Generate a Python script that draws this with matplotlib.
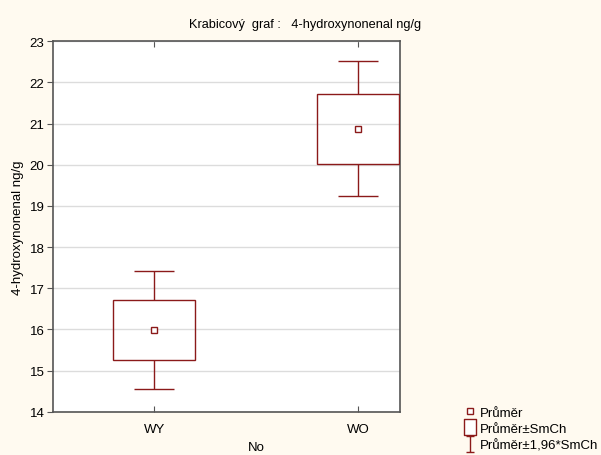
import numpy as np
import matplotlib
matplotlib.use("Agg")
import matplotlib.pyplot as plt
from matplotlib.lines import Line2D
from matplotlib.path import Path

# values
groups = ["WY", "WO"]
means = [15.99, 20.88]
box_low = [15.26, 20.03]      # mean - SE
box_high = [16.72, 21.73]     # mean + SE
whisk_low = [14.55, 19.23]    # mean - 1.96*SE
whisk_high = [17.43, 22.53]   # mean + 1.96*SE

title = "Krabicový  graf :   4-hydroxynonenal ng/g"
ylabel = "4-hydroxynonenal ng/g"
xlabel = "No"
legend_labels = ["Průměr", "Průměr±SmCh", "Průměr±1,96*SmCh"]

red = "#8b1a1a"
bg = "#fffaf0"

plt.rcParams["font.family"] = ["Liberation Sans", "DejaVu Sans"]
plt.rcParams["font.size"] = 9.5

fig = plt.figure(figsize=(6.01, 4.56), dpi=100, facecolor=bg)
ax = fig.add_axes([0.0877, 0.095, 0.5779, 0.8122])
ax.set_facecolor("white")

x = np.arange(len(groups))
ax.vlines(x, whisk_low, box_low, color=red, lw=1, zorder=2)
ax.vlines(x, box_high, whisk_high, color=red, lw=1, zorder=2)
ax.hlines(whisk_low, x - 0.1, x + 0.1, color=red, lw=1, zorder=2)
ax.hlines(whisk_high, x - 0.1, x + 0.1, color=red, lw=1, zorder=2)
ax.bar(x, np.array(box_high) - np.array(box_low), bottom=box_low, width=0.4,
       fill=False, edgecolor=red, lw=1, zorder=3)
ax.plot(x, means, ls="none", marker="s", ms=4, mfc="white", mec=red, mew=1, zorder=4)

ax.set_xlim(-0.497, 1.206)
ax.set_ylim(14, 23)
ax.set_yticks(range(14, 24))
ax.set_xticks(x)
ax.set_xticklabels(groups)
ax.yaxis.grid(True, color="#dcdcdc", lw=1)
ax.set_axisbelow(True)
ax.tick_params(axis="y", direction="out", length=4, color="#555555", pad=2)
ax.tick_params(axis="x", direction="in", length=4, color="#555555", top=True, pad=8)
for s in ax.spines.values():
    s.set_color("#555555")
    s.set_linewidth(1.2)

fig.text(0.507, 0.945, title, ha="center", va="center", fontsize=9.2)
ax.set_ylabel(ylabel, labelpad=4)
fig.text(256 / 601, 1 - 448 / 456, xlabel, ha="center", va="center")

# legend symbols
ibar = Path([(-0.5, 1), (0.5, 1), (0, 1), (0, -1), (-0.5, -1), (0.5, -1)],
            [Path.MOVETO, Path.LINETO, Path.MOVETO, Path.LINETO, Path.MOVETO, Path.LINETO])
rect = Path([(-0.4, -0.5), (0.4, -0.5), (0.4, 0.5), (-0.4, 0.5), (-0.4, -0.5)],
            [Path.MOVETO, Path.LINETO, Path.LINETO, Path.LINETO, Path.CLOSEPOLY])
handles = [
    Line2D([], [], ls="none", marker="s", ms=4, mfc="white", mec=red, mew=1),
    Line2D([], [], ls="none", marker=rect, ms=11, mfc="white", mec=red, mew=1),
    Line2D([], [], ls="none", marker=ibar, ms=12, mfc="none", mec=red, mew=1),
]
fig.legend(handles, legend_labels, loc="lower left", bbox_to_anchor=(0.758, -0.012),
           frameon=False, handlelength=0.8, handletextpad=0.35, labelspacing=0.3,
           borderpad=0.2, fontsize=9.5)

fig.savefig("out.png", dpi=100, facecolor=bg)
